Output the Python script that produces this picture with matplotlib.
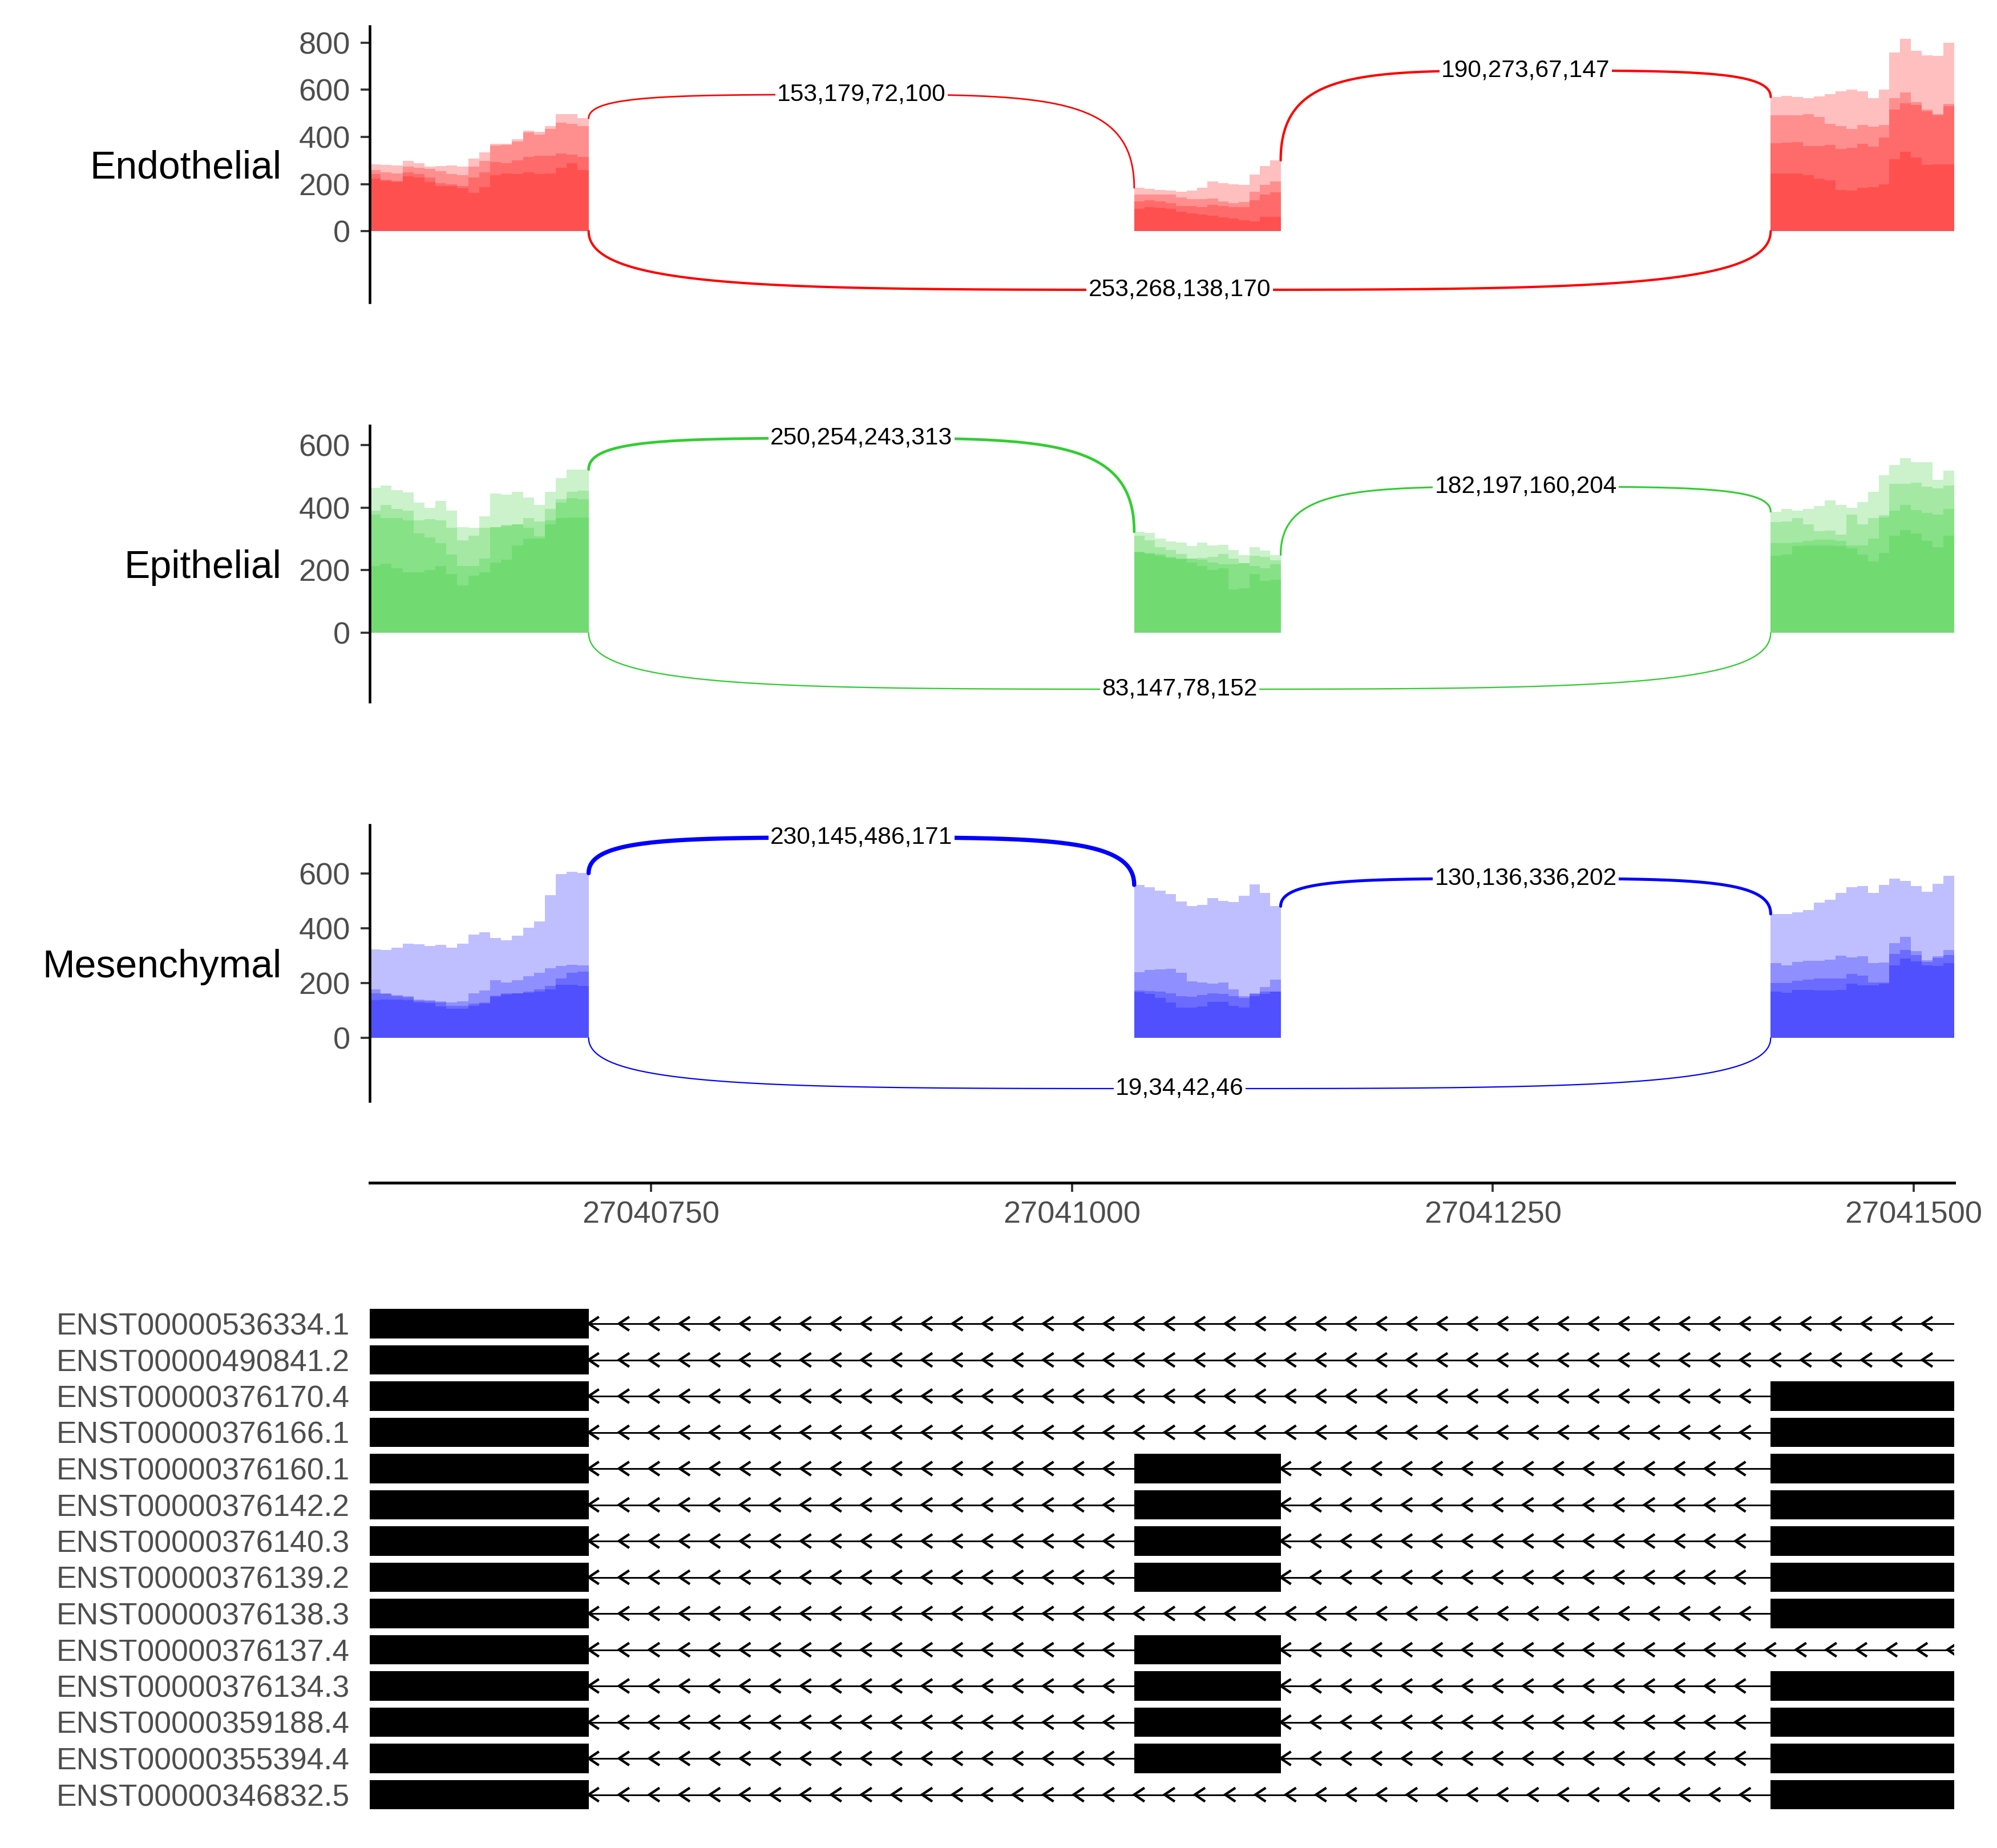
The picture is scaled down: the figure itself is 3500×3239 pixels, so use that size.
import numpy as np
import matplotlib
matplotlib.use("Agg")
import matplotlib.pyplot as plt

plt.rcParams['font.family'] = ['Liberation Sans', 'DejaVu Sans']

# ---------------- data ----------------
xlim = (27040583, 27041524)
x_ticks = [27040750, 27041000, 27041250, 27041500]

# exon bounds (genomic)
exon_start = [27040583, 27041037, 27041415]
exon_end = [27040713, 27041124, 27041524]

cell_types = ['Endothelial', 'Epithelial', 'Mesenchymal']
cell_colors = ['#FF0000', '#32CD32', '#0000FF']

# coverage per exon, 4 samples sorted high -> low, binned
endo_exon1 = [
    [283, 281, 279, 298, 288, 274, 277, 279, 274, 307, 335, 370, 372, 391, 428, 423, 447, 497, 497, 479],
    [260, 251, 246, 275, 270, 265, 256, 242, 237, 275, 298, 364, 367, 381, 419, 409, 433, 460, 456, 447],
    [242, 219, 214, 251, 242, 228, 205, 200, 191, 228, 251, 293, 288, 302, 316, 321, 321, 330, 325, 316],
    [224, 214, 209, 233, 228, 209, 191, 191, 181, 163, 186, 237, 246, 242, 251, 242, 246, 270, 288, 260],
]
endo_exon2 = [
    [184, 180, 176, 172, 168, 172, 184, 212, 204, 200, 196, 241, 277, 301],
    [156, 156, 156, 156, 143, 135, 135, 139, 127, 119, 123, 168, 196, 212],
    [127, 131, 127, 119, 107, 107, 103, 111, 107, 103, 103, 131, 155, 164],
    [95, 103, 99, 95, 83, 75, 71, 67, 59, 54, 46, 42, 62, 62],
]
endo_exon3 = [
    [570, 574, 570, 566, 572, 581, 593, 601, 593, 565, 601, 759, 817, 767, 747, 743, 799],
    [492, 492, 492, 496, 484, 455, 447, 435, 451, 443, 451, 565, 589, 548, 516, 496, 540],
    [374, 376, 378, 362, 362, 366, 350, 354, 370, 358, 398, 516, 544, 536, 508, 492, 532],
    [245, 245, 245, 237, 224, 216, 176, 172, 184, 188, 200, 305, 338, 313, 281, 285, 285],
]
epi_exon1 = [
    [463, 470, 456, 448, 415, 399, 421, 390, 338, 335, 372, 445, 442, 451, 433, 408, 451, 494, 522, 522],
    [390, 408, 396, 390, 360, 363, 360, 335, 295, 311, 335, 338, 344, 347, 366, 356, 396, 427, 451, 454],
    [377, 366, 366, 360, 317, 305, 286, 250, 213, 213, 237, 338, 342, 347, 335, 308, 360, 415, 430, 427],
    [214, 220, 207, 194, 194, 201, 213, 188, 152, 182, 194, 225, 234, 280, 301, 301, 347, 366, 369, 369],
]
epi_exon2 = [
    [323, 320, 301, 292, 289, 277, 289, 280, 281, 265, 249, 274, 262, 249],
    [310, 295, 274, 265, 252, 237, 240, 243, 252, 237, 222, 246, 243, 231],
    [260, 256, 251, 243, 238, 237, 234, 225, 219, 219, 222, 213, 207, 219],
    [257, 252, 246, 240, 236, 225, 213, 201, 207, 139, 142, 188, 167, 170],
]
epi_exon3 = [
    [387, 395, 390, 396, 405, 423, 408, 399, 418, 451, 503, 537, 558, 546, 546, 488, 518],
    [354, 356, 366, 347, 325, 327, 313, 378, 347, 366, 375, 476, 476, 479, 467, 461, 470],
    [286, 287, 289, 294, 298, 297, 294, 280, 280, 301, 369, 390, 408, 393, 384, 378, 396],
    [247, 250, 277, 280, 280, 280, 277, 271, 250, 228, 256, 311, 328, 317, 293, 274, 311],
]
mes_exon1 = [
    [323, 322, 329, 345, 342, 335, 340, 330, 345, 378, 385, 366, 356, 374, 402, 426, 522, 598, 606, 602],
    [178, 164, 157, 152, 140, 138, 134, 130, 134, 162, 174, 210, 202, 210, 226, 238, 254, 262, 268, 266],
    [162, 160, 152, 148, 136, 134, 130, 118, 118, 126, 130, 154, 162, 164, 170, 178, 190, 218, 238, 242],
    [138, 140, 140, 138, 130, 128, 114, 106, 106, 118, 126, 150, 158, 162, 166, 170, 178, 194, 194, 190],
]
mes_exon2 = [
    [559, 550, 538, 526, 498, 481, 486, 510, 501, 497, 519, 560, 529, 481],
    [240, 248, 251, 252, 237, 206, 202, 199, 202, 178, 153, 164, 185, 213],
    [174, 172, 169, 162, 153, 150, 157, 162, 160, 153, 146, 160, 169, 169],
    [168, 160, 146, 129, 111, 111, 115, 132, 132, 118, 111, 153, 160, 169],
]
mes_exon3 = [
    [453, 453, 458, 468, 494, 505, 530, 551, 554, 530, 558, 582, 574, 554, 534, 562, 592],
    [273, 266, 278, 282, 281, 286, 301, 294, 298, 274, 276, 346, 370, 318, 284, 298, 322],
    [201, 200, 208, 213, 218, 218, 218, 233, 228, 202, 202, 306, 322, 302, 278, 292, 302],
    [170, 166, 176, 176, 174, 174, 176, 198, 192, 192, 198, 266, 290, 280, 266, 264, 274],
]

# junctions: start, end, arc height (negative = below)
junc_start = [27040713, 27041124, 27040713]
junc_end = [27041037, 27041415, 27041415]
endo_junc_counts = [[153, 179, 72, 100], [190, 273, 67, 147], [253, 268, 138, 170]]
epi_junc_counts = [[250, 254, 243, 313], [182, 197, 160, 204], [83, 147, 78, 152]]
mes_junc_counts = [[230, 145, 486, 171], [130, 136, 336, 202], [19, 34, 42, 46]]
endo_junc_height = [580, 682, -249]
epi_junc_height = [622, 467, -180]
mes_junc_height = [732, 582, -185]

y_ticks = [[0, 200, 400, 600, 800], [0, 200, 400, 600], [0, 200, 400, 600]]

# transcripts
tx_names = ['ENST00000536334.1', 'ENST00000490841.2', 'ENST00000376170.4', 'ENST00000376166.1',
            'ENST00000376160.1', 'ENST00000376142.2', 'ENST00000376140.3', 'ENST00000376139.2',
            'ENST00000376138.3', 'ENST00000376137.4', 'ENST00000376134.3', 'ENST00000359188.4',
            'ENST00000355394.4', 'ENST00000346832.5']
tx_exons = [[0], [0], [0, 2], [0, 2], [0, 1, 2], [0, 1, 2], [0, 1, 2], [0, 1, 2],
            [0, 2], [0, 1], [0, 1, 2], [0, 1, 2], [0, 1, 2], [0, 2]]
tx_end = [27041524, 27041524, 27041524, 27041524, 27041524, 27041524, 27041524, 27041524,
          27041524, 27041540, 27041524, 27041524, 27041524, 27041524]

# ---------------- layout ----------------
W, H = 3500, 3239
fig = plt.figure(figsize=(W / 300, H / 300), dpi=300)


def rect(left, top, right, bottom):
    return [left / W, 1 - bottom / H, (right - left) / W, (bottom - top) / H]


AX_L, AX_R = 648, 3425
TEXT_GREY = '#4D4D4D'
TICK_GREY = '#333333'

panel_cov = [[endo_exon1, endo_exon2, endo_exon3],
             [epi_exon1, epi_exon2, epi_exon3],
             [mes_exon1, mes_exon2, mes_exon3]]
panel_counts = [endo_junc_counts, epi_junc_counts, mes_junc_counts]
panel_heights = [endo_junc_height, epi_junc_height, mes_junc_height]
panel_tops = [45.9, 745.9, 1445.9]
PANEL_H = 484.1

all_max = max(max(c) for cl in panel_counts for c in cl)


def cov_at(cov, pos):
    for i, (s, e) in enumerate(zip(exon_start, exon_end)):
        if s - 1 <= pos <= e + 1:
            top = cov[i][0]
            idx = int((pos - s) / (e - s) * len(top))
            return top[min(max(idx, 0), len(top) - 1)]
    return 0


def arc_half(x0, y0, x1, y1, n=150):
    # steep start, long flat end (close to grid's xspline used by ggsashimi)
    t = np.linspace(0, 1, n)
    u = t ** 2
    v = 1 - (1 - t) ** 3
    return x0 + u * (x1 - x0), y0 + v * (y1 - y0)


for p in range(3):
    top = panel_tops[p]
    ax = fig.add_axes(rect(AX_L, top, AX_R, top + PANEL_H))
    col = cell_colors[p]
    cov = panel_cov[p]

    for s, e, layers in zip(exon_start, exon_end, cov):
        for vals in layers:
            edges = np.linspace(s, e, len(vals) + 1)
            ax.fill_between(edges, 0, list(vals) + [vals[-1]], step='post',
                            color=col, alpha=0.25, lw=0)

    cov_max = max(max(l[0]) for l in cov)
    for j in range(3):
        js, je = junc_start[j], junc_end[j]
        ymid = panel_heights[p][j]
        xmid = (js + je) / 2
        lw_px = max(7.4 * max(panel_counts[p][j]) / all_max, 2.2)
        lw = lw_px * 72 / 300
        if ymid > 0:
            h0, h1 = cov_at(cov, js), cov_at(cov, je)
        else:
            h0, h1 = 0, 0
        for x0, y0 in [(js, h0), (je, h1)]:
            xs, ys = arc_half(x0, y0, xmid, ymid)
            ax.plot(xs, ys, color=col, lw=lw, solid_capstyle='round', zorder=3)
        ax.text(xmid, ymid, ','.join(str(c) for c in panel_counts[p][j]),
                ha='center', va='center', fontsize=10.2, color='black', zorder=4,
                bbox=dict(boxstyle='square,pad=0.08', fc='white', ec='none'))

    lo = min(panel_heights[p])
    hi = max(cov_max, max(panel_heights[p]))
    r = hi - lo
    ax.set_ylim(lo - 0.05 * r, hi + 0.05 * r)
    ax.set_xlim(*xlim)
    for sp in ['top', 'right', 'bottom']:
        ax.spines[sp].set_visible(False)
    ax.spines['left'].set_linewidth(1.1)
    ax.set_xticks([])
    ax.set_yticks(y_ticks[p])
    ax.tick_params(axis='y', length=3.84, width=0.9, color=TICK_GREY, pad=4.3,
                   labelsize=13, labelcolor=TEXT_GREY)
    ax.text(-0.0558, 0.5, cell_types[p], transform=ax.transAxes, ha='right',
            va='center_baseline', fontsize=16.3, color='black')

# genomic x axis
axx = fig.add_axes(rect(AX_L, 1990, AX_R, 2073))
axx.set_xlim(*xlim)
for sp in ['top', 'right', 'left']:
    axx.spines[sp].set_visible(False)
axx.spines['bottom'].set_linewidth(1.2)
axx.set_yticks([])
axx.set_xticks(x_ticks, labels=[str(t) for t in x_ticks])
axx.tick_params(axis='x', length=3.84, width=0.9, color=TICK_GREY, pad=3.8,
                labelsize=13, labelcolor=TEXT_GREY)
axx.patch.set_alpha(0)

# transcripts
ROW = 63.5
axt = fig.add_axes(rect(AX_L, 2320 - ROW / 2, AX_R, 2320 + 13.5 * ROW))
axt.set_xlim(*xlim)
axt.set_ylim(len(tx_names) + 0.5, 0.5)
for sp in axt.spines.values():
    sp.set_visible(False)
axt.set_xticks([])
axt.set_yticks(range(1, len(tx_names) + 1), labels=tx_names)
axt.tick_params(axis='y', length=0, pad=8.5, labelsize=12.8, labelcolor=TEXT_GREY)

ARROW_STEP = 18
ARROW_W = 5.5
ARROW_H = 0.17
BOX_H = 0.81
for i, (ex, tend) in enumerate(zip(tx_exons, tx_end)):
    y = i + 1
    segs = []
    for a, b in zip(ex[:-1], ex[1:]):
        segs.append((exon_end[a], exon_start[b]))
    if tend > exon_end[ex[-1]]:
        segs.append((exon_end[ex[-1]], tend))
    cx, cy = [], []
    for s, e in segs:
        axt.plot([s, e], [y, y], color='black', lw=0.7, zorder=1)
        pos = s
        while pos + ARROW_W < e:
            cx += [pos + ARROW_W, pos, pos + ARROW_W, np.nan]
            cy += [y - ARROW_H, y, y + ARROW_H, np.nan]
            pos += ARROW_STEP
    axt.plot(cx, cy, color='black', lw=1.05, solid_joinstyle='miter', zorder=2)
    axt.broken_barh([(exon_start[k], exon_end[k] - exon_start[k]) for k in ex],
                    (y - BOX_H / 2, BOX_H), facecolors='black', edgecolor='none', zorder=3)

fig.savefig('out.png', dpi=300)
